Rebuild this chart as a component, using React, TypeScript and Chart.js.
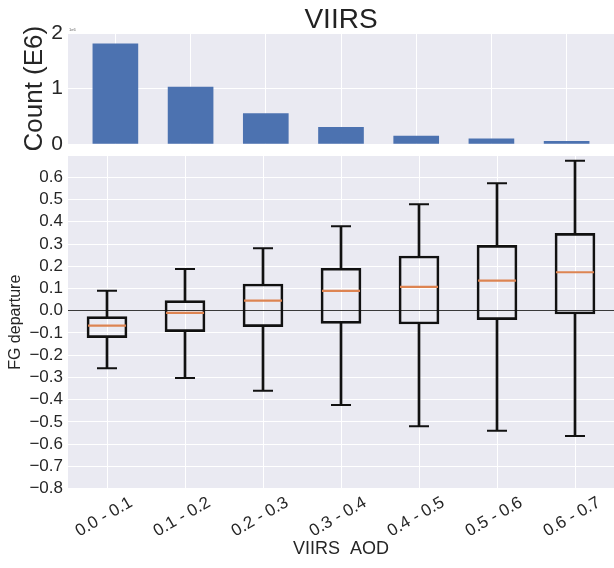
import React, { useEffect, useRef } from 'react';
import { Chart, registerables } from 'chart.js';

Chart.register(...registerables);

// ---------- data ----------
const categories = ['0.0 - 0.1', '0.1 - 0.2', '0.2 - 0.3', '0.3 - 0.4', '0.4 - 0.5', '0.5 - 0.6', '0.6 - 0.7'];
const counts = [1.81, 1.03, 0.55, 0.30, 0.145, 0.095, 0.05]; // in 1e6
const whiskerLow = [-0.259, -0.303, -0.360, -0.424, -0.520, -0.540, -0.564];
const quartile1 = [-0.121, -0.094, -0.072, -0.057, -0.060, -0.040, -0.015];
const medians = [-0.067, -0.010, 0.045, 0.089, 0.107, 0.135, 0.173];
const quartile3 = [-0.027, 0.045, 0.120, 0.191, 0.246, 0.294, 0.348];
const whiskerHigh = [0.090, 0.188, 0.281, 0.380, 0.479, 0.573, 0.675];
const countTicks = [0, 1, 2];
const barPositions = [0, 1, 2, 3, 4, 5, 6];
const departureTicks = [-0.8, -0.7, -0.6, -0.5, -0.4, -0.3, -0.2, -0.1, 0, 0.1, 0.2, 0.3, 0.4, 0.5, 0.6];

const FONT = '"Liberation Sans", Arial, sans-serif';
const TEXT = '#262626';
const PLOT_BG = '#EAEAF2';
const BAR_BLUE = '#4C72B0';
const MEDIAN = '#DD8452';
const BOX = '#111111';

const bgPlugin = {
  id: 'plotBg',
  beforeDraw(chart: any) {
    const { ctx, chartArea } = chart;
    ctx.save();
    ctx.fillStyle = PLOT_BG;
    ctx.fillRect(chartArea.left, chartArea.top, chartArea.right - chartArea.left, chartArea.bottom - chartArea.top);
    ctx.restore();
  },
};

const expPlugin = {
  id: 'expLabel',
  afterDraw(chart: any) {
    const { ctx, chartArea } = chart;
    ctx.save();
    ctx.font = `4px ${FONT}`;
    ctx.fillStyle = '#666';
    ctx.textAlign = 'left';
    ctx.textBaseline = 'bottom';
    ctx.fillText('1e6', chartArea.left + 1, chartArea.top - 1);
    ctx.restore();
  },
};

const xLabelsPlugin = {
  id: 'rotatedXLabels',
  afterDraw(chart: any) {
    const xs = chart.scales.x;
    const { ctx, chartArea } = chart;
    ctx.save();
    ctx.font = `17px ${FONT}`;
    ctx.fillStyle = TEXT;
    ctx.textAlign = 'center';
    ctx.textBaseline = 'middle';
    categories.forEach((lab, i) => {
      const x = xs.getPixelForValue(i) - 3;
      const y = chartArea.bottom + 28.5;
      ctx.save();
      ctx.translate(x, y);
      ctx.rotate(-Math.PI / 6);
      ctx.fillText(lab, 0, 0);
      ctx.restore();
    });
    ctx.restore();
  },
};

const fmt = (v: number) => {
  if (Math.abs(v) < 1e-9) return '0.0';
  return v < 0 ? '\u2212' + Math.abs(v).toFixed(1) : v.toFixed(1);
};

export default function App() {
  const topRef = useRef<HTMLCanvasElement>(null);
  const botRef = useRef<HTMLCanvasElement>(null);

  useEffect(() => {
    const top = new Chart(topRef.current as HTMLCanvasElement, {
      type: 'bar',
      data: {
        datasets: [
          {
            data: counts.map((v, i) => ({ x: barPositions[i], y: v })),
            backgroundColor: BAR_BLUE,
            borderWidth: 0,
            barThickness: 45,
          } as any,
        ],
      },
      options: {
        responsive: false,
        animation: false,
        devicePixelRatio: 1,
        layout: { autoPadding: false, padding: { top: 0, left: 0, right: 0, bottom: 6 } },
        plugins: {
          legend: { display: false },
          tooltip: { enabled: false },
          title: {
            display: true,
            text: 'VIIRS',
            fullSize: false,
            color: '#222',
            font: { family: FONT, size: 28, weight: 'normal', lineHeight: 0.9 },
            padding: { top: 7.7, bottom: 0.4 },
          },
        },
        scales: {
          x: {
            type: 'linear',
            offset: false,
            min: -0.63,
            max: 6.63,
            afterBuildTicks: (s: any) => { s.ticks = barPositions.map((v) => ({ value: v })); },
            afterFit: (s: any) => { s.height = 0; s.paddingLeft = 0; s.paddingRight = 0; },
            ticks: { display: false, autoSkip: false },
            grid: { color: '#ffffff', lineWidth: 1, drawTicks: false, offset: false },
            border: { display: false },
          },
          y: {
            min: 0,
            max: 2,
            afterBuildTicks: (s: any) => { s.ticks = countTicks.map((v) => ({ value: v })); },
            afterFit: (s: any) => { s.width = 68; s.paddingTop = 0; s.paddingBottom = 0; },
            ticks: { color: TEXT, padding: 5, autoSkip: false, font: { family: FONT, size: 21 }, callback: (v: any) => String(v) },
            grid: { color: '#ffffff', lineWidth: 1, drawTicks: false },
            border: { display: false },
            title: {
              display: true,
              text: 'Count (E6)',
              color: TEXT,
              font: { family: FONT, size: 26, lineHeight: 1 },
              padding: { top: 21.5, bottom: 0 },
            },
          },
        },
      } as any,
      plugins: [bgPlugin, expPlugin],
    });

    const bottom = new Chart(botRef.current as HTMLCanvasElement, {
      type: 'bar',
      data: {
        labels: categories,
        datasets: [
          {
            type: 'line',
            label: 'median',
            data: medians,
            showLine: false,
            pointStyle: 'line',
            pointRadius: 19,
            pointHoverRadius: 19,
            pointBorderColor: MEDIAN,
            pointBorderWidth: 2.2,
            borderColor: MEDIAN,
            order: 0,
          },
          {
            type: 'line',
            label: 'cap high',
            data: whiskerHigh,
            showLine: false,
            pointStyle: 'line',
            pointRadius: 10,
            pointHoverRadius: 10,
            pointBorderColor: BOX,
            pointBorderWidth: 2,
            borderColor: BOX,
            order: 1,
          },
          {
            type: 'line',
            label: 'cap low',
            data: whiskerLow,
            showLine: false,
            pointStyle: 'line',
            pointRadius: 10,
            pointHoverRadius: 10,
            pointBorderColor: BOX,
            pointBorderWidth: 2,
            borderColor: BOX,
            order: 1,
          },
          {
            type: 'bar',
            label: 'box',
            data: quartile1.map((v, i) => [v, quartile3[i]]),
            backgroundColor: 'rgba(0,0,0,0)',
            borderColor: BOX,
            borderWidth: 2,
            borderSkipped: false,
            barThickness: 40,
            grouped: false,
            order: 2,
          },
          {
            type: 'bar',
            label: 'whisker high',
            data: quartile3.map((v, i) => [v, whiskerHigh[i]]),
            backgroundColor: BOX,
            borderWidth: 0,
            barThickness: 2,
            grouped: false,
            order: 3,
          },
          {
            type: 'bar',
            label: 'whisker low',
            data: whiskerLow.map((v, i) => [v, quartile1[i]]),
            backgroundColor: BOX,
            borderWidth: 0,
            barThickness: 2,
            grouped: false,
            order: 3,
          },
        ] as any,
      },
      options: {
        responsive: false,
        animation: false,
        devicePixelRatio: 1,
        layout: { autoPadding: false, padding: { top: 6, left: 0, right: 0, bottom: 0 } },
        plugins: {
          legend: { display: false },
          tooltip: { enabled: false },
        },
        scales: {
          x: {
            type: 'category',
            offset: true,
            afterFit: (s: any) => { s.height = 79.5; s.paddingLeft = 0; s.paddingRight = 0; },
            ticks: { display: false, autoSkip: false },
            grid: { color: '#ffffff', lineWidth: 1, drawTicks: false, offset: false },
            border: { display: false },
            title: {
              display: true,
              text: 'VIIRS  AOD',
              color: TEXT,
              font: { family: FONT, size: 18, lineHeight: 1 },
              padding: { top: 0, bottom: 9.5 },
            },
          },
          y: {
            min: -0.8,
            max: 0.696,
            afterBuildTicks: (s: any) => { s.ticks = departureTicks.map((v) => ({ value: v })); },
            afterFit: (s: any) => { s.width = 68; s.paddingTop = 0; s.paddingBottom = 0; },
            ticks: { color: TEXT, padding: 5, autoSkip: false, font: { family: FONT, size: 17 }, callback: (v: any) => fmt(Number(v)) },
            grid: {
              color: (ctx: any) => (ctx.tick && Math.abs(ctx.tick.value) < 1e-9 ? '#3a3a3a' : '#ffffff'),
              lineWidth: 1,
              drawTicks: false,
            },
            border: { display: false },
            title: {
              display: true,
              text: 'FG departure',
              color: TEXT,
              font: { family: FONT, size: 16, lineHeight: 1 },
              padding: { top: 8, bottom: 0 },
            },
          },
        },
      } as any,
      plugins: [bgPlugin, xLabelsPlugin],
    });

    return () => {
      top.destroy();
      bottom.destroy();
    };
  }, []);

  return (
    <div style={{ position: 'fixed', left: 0, top: 0, width: 614, height: 568, background: '#ffffff' }}>
      <canvas ref={topRef} width={614} height={150} style={{ position: 'absolute', left: 0, top: 0, width: 614, height: 150 }} />
      <canvas ref={botRef} width={614} height={418} style={{ position: 'absolute', left: 0, top: 150, width: 614, height: 418 }} />
    </div>
  );
}
